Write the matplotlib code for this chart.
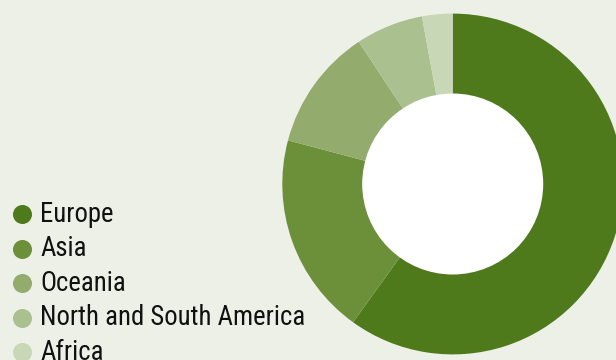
import matplotlib
matplotlib.use("Agg")
import matplotlib.pyplot as plt
from matplotlib.patches import Circle

regions = ["Europe", "Asia", "Oceania", "North and South America", "Africa"]
shares = [60.0, 19.2, 11.6, 6.4, 2.9]
colors = ["#4f7a1c", "#6b9039", "#93ab6c", "#abc08f", "#c8d7b5"]

bg = "#edf0e6"
family = ["Roboto Condensed", "DejaVu Sans"]

W, H, DPI = 616, 360, 100
fig = plt.figure(figsize=(W / DPI, H / DPI), dpi=DPI, facecolor=bg)

# donut
cx, cy, r = 452.7, 184.0, 170.4
ax = fig.add_axes([(cx - r) / W, (H - cy - r) / H, 2 * r / W, 2 * r / H])
ax.set_facecolor(bg)
ax.pie(shares, colors=colors, startangle=90, counterclock=False, radius=1.0,
       wedgeprops=dict(linewidth=0))
ax.add_patch(Circle((0, 0), 90.5 / r, facecolor="white", edgecolor="none", zorder=5))
ax.set_xlim(-1, 1)
ax.set_ylim(-1, 1)
ax.set_aspect("auto")
ax.axis("off")

# legend drawn in a pixel-space overlay
lg = fig.add_axes([0, 0, 1, 1], facecolor="none")
lg.set_xlim(0, W)
lg.set_ylim(H, 0)
lg.axis("off")
y0, step = 214.0, 34.5
for i, (name, c) in enumerate(zip(regions, colors)):
    y = y0 + i * step
    lg.plot([21.5], [y], marker="o", markersize=13.7, markerfacecolor=c,
            markeredgecolor="none", linestyle="none", clip_on=False)
    lg.text(40.5, y + 7.7, name, family=family, fontsize=19.3, color="#111111",
            va="baseline", ha="left", clip_on=False)

fig.savefig("out.png", dpi=DPI, facecolor=bg)
